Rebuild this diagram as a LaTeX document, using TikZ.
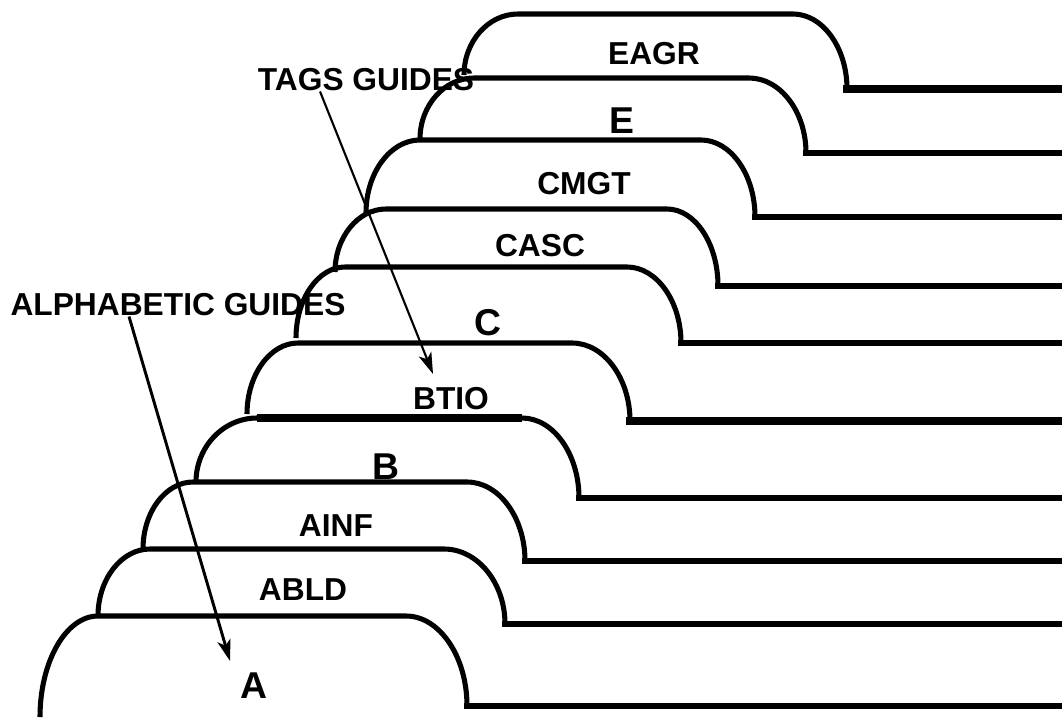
\documentclass[tikz,border=0pt]{standalone}
\usepackage{fontspec}
\setmainfont{Liberation Sans}
\usetikzlibrary{arrows.meta}

\tikzset{
	guide/.style={line width=3.8pt, line join=round},
	heavy/.style={line width=6pt},
	tagname/.style={font=\fontsize{23.8}{28}\selectfont\bfseries, inner sep=0pt},
	bigletter/.style={font=\fontsize{28}{32}\selectfont\bfseries, inner sep=0pt},
	pointer/.style={-{Stealth[length=16pt,width=10pt,inset=4pt]}}
}

\begin{document}
\begin{tikzpicture}[x=0.75pt,y=-0.75pt]
	\useasboundingbox (0,0) rectangle (1062,717);
	% tabs, from the front guide to the back one
	\foreach \xl/\yb/\yt/\xa/\xb/\xr/\yr/\bw in {
			40/717/616/98/406/467/706/3.8,
			98/616/549/150/444/505/624/3.8,
			143/549/482/193/467/525/561/3.8,
			196/482/418/257/522/579/498/3.8,
			247/414/343/298/572/630/421/6,
			296/338/267/345/627/681/343/3.8,
			335/272/209/386/667/718/286/3.8,
			366/213/140/420/701/755/217/3.8,
			420/139/78/474/749/806/153/3.8,
			464/75/14/518/793/847/89/6}{
			\draw [guide] (\xl,\yb) .. controls (\xl,{\yb-0.55*(\yb-\yt)}) and ({\xa-0.55*(\xa-\xl)},\yt) .. (\xa,\yt)
				-- (\xb,\yt) .. controls ({\xb+0.55*(\xr-\xb)},\yt) and (\xr,{\yr-0.55*(\yr-\yt)}) .. (\xr,\yr);
			\draw [line width=\bw pt, line cap=rect] (\xr,\yr) -- (1062,\yr);
		}
	\draw [heavy] (257,418) -- (522,418);

	% tab names
	\node [tagname] (eagr) at (654,54) {EAGR};
	\node [bigletter] (e) at (622,121) {E};
	\node [tagname] (cmgt) at (584,184) {CMGT};
	\node [tagname] (casc) at (540,246) {CASC};
	\node [bigletter] (c) at (488,323) {C};
	\node [tagname] (btio) at (451,399) {BTIO};
	\node [bigletter] (b) at (386,467) {B};
	\node [tagname] (ainf) at (336,526) {AINF};
	\node [tagname] (abld) at (303,590) {ABLD};
	\node [bigletter] (a) at (254,686) {A};

	% callouts
	\node [tagname] (tags) at (366,80) {TAGS GUIDES};
	\node [tagname] (alpha) at (178,305) {ALPHABETIC GUIDES};
	\coordinate (tagsTip) at (433,374);
	\coordinate (alphaTip) at (230,661);
	\draw [pointer, line width=1.6pt] ([xshift=-34.5pt]tags.south) -- (tagsTip);
	\draw [pointer, line width=2.2pt] ([xshift=-36.75pt]alpha.south) -- (alphaTip);
\end{tikzpicture}
\end{document}
